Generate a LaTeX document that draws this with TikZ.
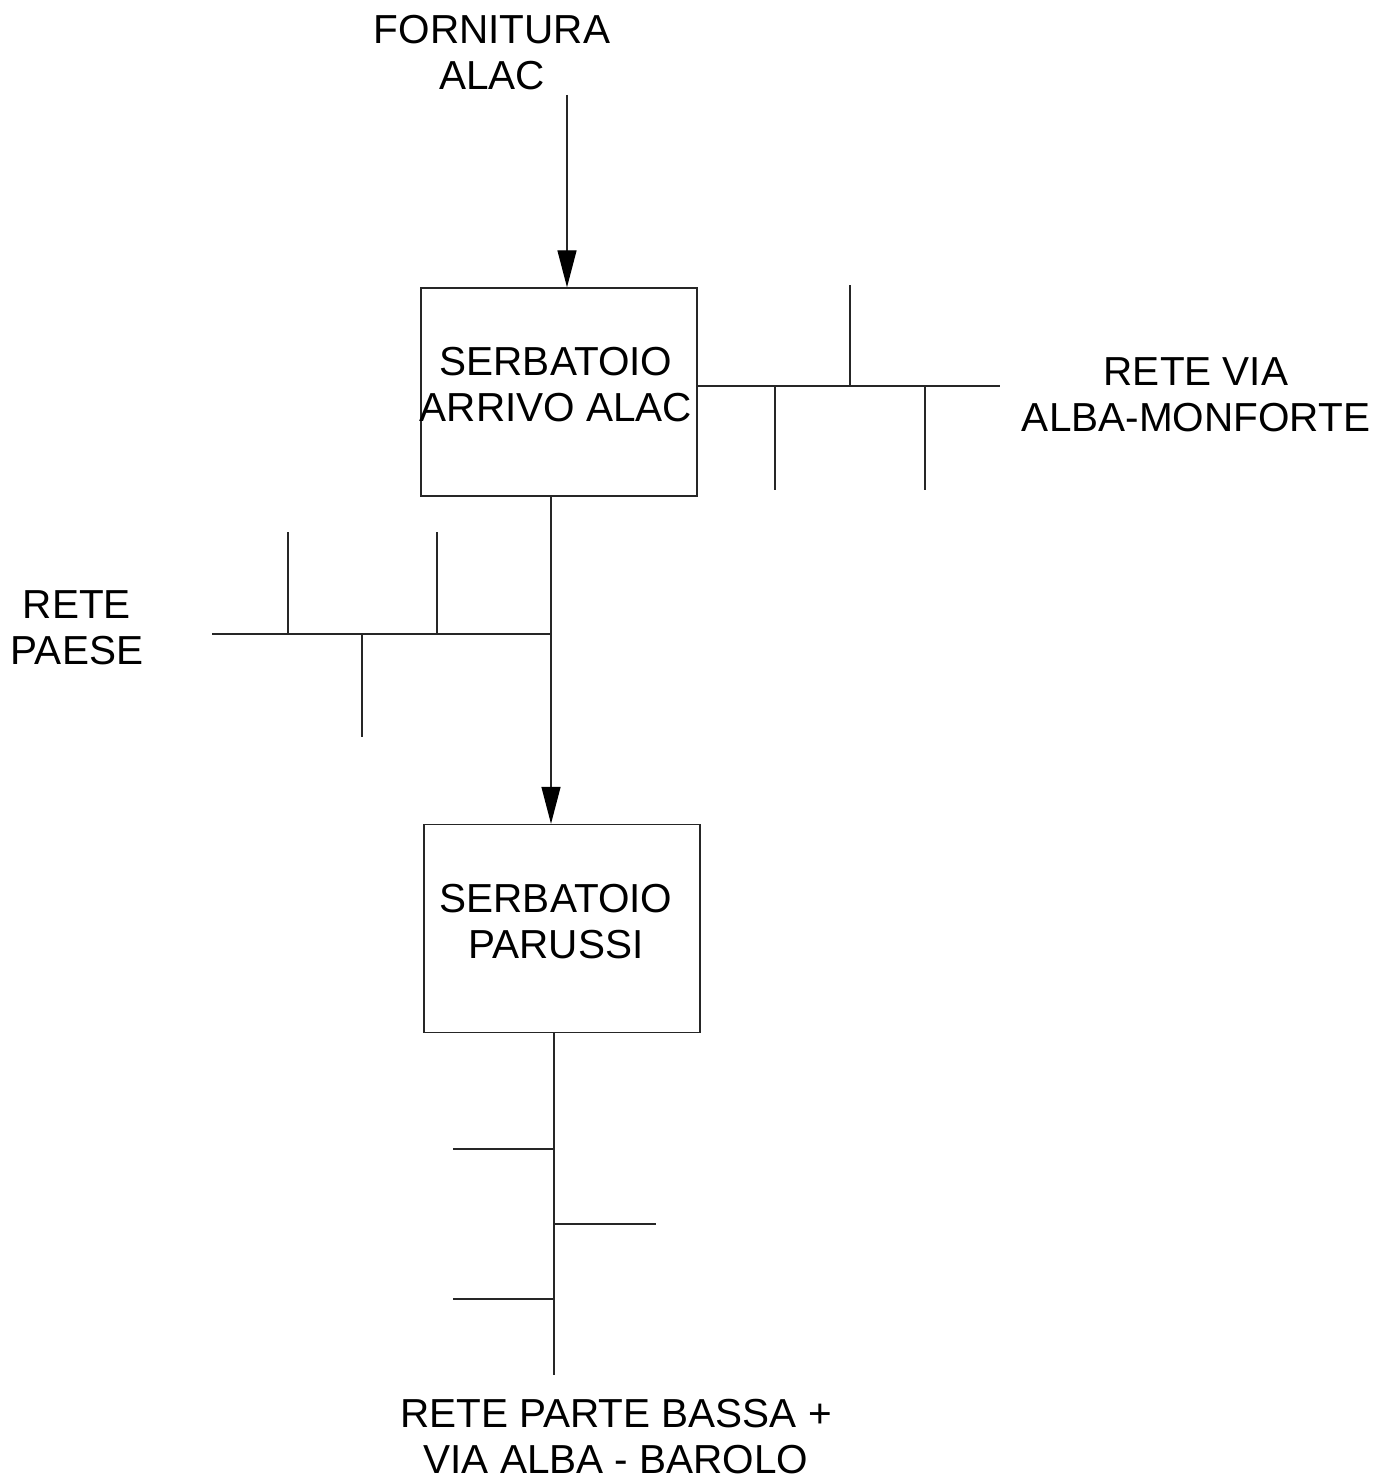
\documentclass[tikz,border=0pt]{standalone}
\usepackage{fontspec}
\setmainfont{Liberation Sans}
\usetikzlibrary{arrows.meta}
\begin{document}
\begin{tikzpicture}[x=0.5pt,y=-0.5pt,
  pipe/.style={draw=black!85,line width=0.7pt},
  flow/.style={pipe,-{Triangle[length=18.5pt,width=9.5pt,color=black]}},
  tank/.style={draw=black!85,line width=0.7pt,minimum width=138pt,minimum height=104pt,inner sep=0pt},
  lbl/.style={align=center,inner sep=0pt,font=\fontsize{20.25}{23}\selectfont}]
\useasboundingbox[fill=white] (0,0) rectangle (1397,1481);
% labels
\node[lbl] (tf) at (492,53) {FORNITURA\\ALAC};
\node[lbl] (tmon) at (1196,395) {RETE VIA\\ALBA-MONFORTE};
\node[lbl] (tpae) at (77,628) {RETE\\PAESE};
\node[lbl] (tbas) at (616,1437) {RETE PARTE BASSA +\\VIA ALBA - BAROLO};
% tanks
\node[tank] (b1) at (559,392) {};
\node[lbl] (t1) at (556,385) {SERBATOIO\\ARRIVO ALAC};
\node[tank] (b2) at (562,928.5) {};
\node[lbl] (t2) at (556,922) {SERBATOIO\\PARUSSI};
% coordinates
\coordinate (src) at (567,95);
\coordinate (j1) at (551,634);
\coordinate (pw) at (212,634);
\coordinate (me) at (1000,386);
\coordinate (bx) at (554,1375);
% supply arrow
\draw[flow] (src) -- (b1.north -| src);
% Alba-Monforte network
\draw[pipe] (b1.east |- me) -- (me);
\draw[pipe] (850,386) -- (850,285);
\draw[pipe] (775,386) -- (775,490);
\draw[pipe] (925,386) -- (925,490);
% tank 1 to tank 2
\draw[flow] (b1.south -| j1) -- (b2.north -| j1);
% Paese network
\draw[pipe] (pw) -- (j1);
\draw[pipe] (288,634) -- (288,532);
\draw[pipe] (437,634) -- (437,532);
\draw[pipe] (362,634) -- (362,737);
% lower network
\draw[pipe] (b2.south -| bx) -- (bx);
\draw[pipe] (453,1149) -- (554,1149);
\draw[pipe] (554,1224) -- (656,1224);
\draw[pipe] (453,1299) -- (554,1299);
\end{tikzpicture}
\end{document}
